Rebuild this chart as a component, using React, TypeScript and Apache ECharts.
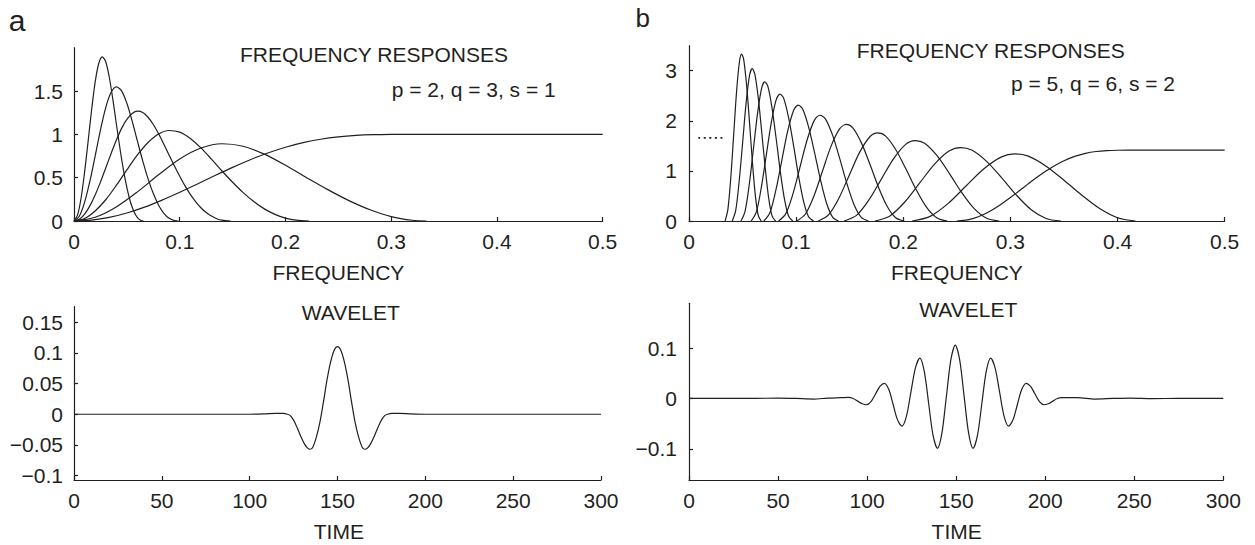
import React, { useEffect, useRef } from 'react';
import * as echarts from 'echarts';

// ---------- Panel a (p = 2, q = 3, s = 1): frequency responses ----------
const aHigh: number[][] = [[0,0],[0.0167,0.0106],[0.0333,0.042],[0.05,0.0927],[0.0667,0.16],[0.0833,0.241],[0.1,0.3316],[0.1167,0.4277],[0.1333,0.525],[0.15,0.6194],[0.1667,0.7071],[0.1833,0.7851],[0.2,0.8511],[0.2167,0.9039],[0.2333,0.9434],[0.25,0.9705],[0.2667,0.9871],[0.2833,0.9957],[0.3,0.9991],[0.3167,1],[0.3333,1],[0.5,1]];
const aLevel2: number[][] = [[0,0],[0.02,0.0437],[0.04,0.1626],[0.06,0.3363],[0.08,0.5333],[0.1,0.7157],[0.12,0.8419],[0.14,0.8917],[0.16,0.8628],[0.18,0.7713],[0.2,0.6424],[0.22,0.5003],[0.24,0.3618],[0.26,0.2356],[0.28,0.1301],[0.3,0.0514],[0.32,0.0084],[0.3333,0]];
const aLevel3: number[][] = [[0,0],[0.01,0.0293],[0.02,0.1161],[0.03,0.2452],[0.04,0.4109],[0.05,0.5902],[0.06,0.762],[0.07,0.9058],[0.08,1.0041],[0.09,1.0443],[0.1,1.0263],[0.11,0.9531],[0.12,0.8438],[0.13,0.7135],[0.14,0.5772],[0.15,0.4471],[0.16,0.3271],[0.17,0.2242],[0.18,0.14],[0.19,0.0764],[0.2,0.0331],[0.21,0.009],[0.2222,0]];
const aLevel4: number[][] = [[0,0],[0.005,0.0198],[0.01,0.0795],[0.015,0.1749],[0.02,0.3002],[0.025,0.4488],[0.03,0.6114],[0.035,0.7761],[0.04,0.9311],[0.045,1.0688],[0.05,1.1729],[0.055,1.2406],[0.06,1.2669],[0.065,1.2524],[0.07,1.1973],[0.075,1.1136],[0.08,1.0064],[0.085,0.8853],[0.09,0.7595],[0.095,0.6342],[0.1,0.5166],[0.105,0.4053],[0.11,0.3075],[0.115,0.224],[0.12,0.1531],[0.125,0.0971],[0.13,0.0568],[0.135,0.0265],[0.14,0.0091],[0.1481,0]];
const aLevel5: number[][] = [[0,0],[0.005,0.0549],[0.01,0.2142],[0.015,0.4586],[0.02,0.7487],[0.025,1.0481],[0.03,1.3082],[0.035,1.4821],[0.04,1.548],[0.045,1.5023],[0.05,1.3581],[0.055,1.1523],[0.06,0.9212],[0.065,0.6944],[0.07,0.4883],[0.075,0.3163],[0.08,0.1826],[0.085,0.0891],[0.09,0.0312],[0.095,0.0048],[0.0988,0]];
const aLevel6: number[][] = [[0,0],[0.00333,0.0672],[0.00667,0.2623],[0.01,0.5617],[0.01333,0.9169],[0.01667,1.2836],[0.02,1.6019],[0.02333,1.8144],[0.02667,1.8948],[0.03,1.8386],[0.03333,1.6618],[0.03667,1.409],[0.04,1.1256],[0.04333,0.8479],[0.04667,0.5959],[0.05,0.3857],[0.05333,0.2223],[0.05667,0.1083],[0.06,0.0378],[0.06333,0.0058],[0.0658,0]];

// ---------- Panel b (p = 5, q = 6, s = 2): frequency responses ----------
const bHigh: number[][] = [[0.25,0],[0.26,0.0216],[0.27,0.085],[0.28,0.1857],[0.29,0.3166],[0.3,0.4689],[0.31,0.6324],[0.32,0.7967],[0.33,0.9518],[0.34,1.0895],[0.35,1.2036],[0.36,1.291],[0.37,1.3515],[0.38,1.3882],[0.39,1.4064],[0.4,1.4129],[0.41,1.4142],[0.4167,1.4142],[0.5,1.4142]];
const bLevel2: number[][] = [[0.2083,0],[0.225,0.0931],[0.2417,0.3468],[0.2583,0.6928],[0.275,1.0382],[0.2917,1.2796],[0.3042,1.3388],[0.3167,1.2943],[0.3333,1.0945],[0.35,0.8134],[0.3667,0.5138],[0.3833,0.2479],[0.4,0.0651],[0.4167,0]];
const bLevel3: number[][] = [[0.1736,0],[0.1875,0.102],[0.2014,0.3799],[0.2153,0.7589],[0.2292,1.1372],[0.2431,1.4017],[0.2535,1.4665],[0.2639,1.417],[0.2778,1.1903],[0.2917,0.8647],[0.3056,0.5161],[0.3194,0.2251],[0.3333,0.0504],[0.3472,0]];
const bLevel4: number[][] = [[0.1447,0],[0.1563,0.1117],[0.1678,0.4162],[0.1794,0.8313],[0.191,1.2458],[0.2025,1.5355],[0.2112,1.6065],[0.2199,1.5522],[0.2315,1.3039],[0.2431,0.9473],[0.2546,0.5654],[0.2662,0.2465],[0.2778,0.0548],[0.2894,0]];
const bLevel5: number[][] = [[0.1206,0],[0.1302,0.1224],[0.1399,0.4559],[0.1495,0.9107],[0.1591,1.3647],[0.1688,1.6821],[0.176,1.7598],[0.1833,1.7004],[0.1929,1.4283],[0.2025,1.0377],[0.2122,0.6193],[0.2218,0.27],[0.2315,0.06],[0.2411,0]];
const bLevel6: number[][] = [[0.1005,0],[0.1085,0.1341],[0.1166,0.4994],[0.1246,0.9976],[0.1326,1.4949],[0.1407,1.8426],[0.1467,1.9278],[0.1527,1.8626],[0.1608,1.5647],[0.1688,1.1367],[0.1768,0.6785],[0.1849,0.2958],[0.1929,0.0658],[0.2009,0]];
const bLevel7: number[][] = [[0.0837,0],[0.0904,0.1469],[0.0971,0.5471],[0.1038,1.0928],[0.1105,1.6376],[0.1172,2.0185],[0.1222,2.1118],[0.1273,2.0404],[0.134,1.714],[0.1407,1.2452],[0.1474,0.7432],[0.1541,0.324],[0.1608,0.0721],[0.1675,0]];
const bLevel8: number[][] = [[0.0698,0],[0.0754,0.1609],[0.0809,0.5993],[0.0865,1.1971],[0.0921,1.7939],[0.0977,2.2111],[0.1019,2.3133],[0.1061,2.2352],[0.1116,1.8776],[0.1172,1.364],[0.1228,0.8142],[0.1284,0.3549],[0.134,0.0789],[0.1395,0]];
const bLevel9: number[][] = [[0.0581,0],[0.0628,0.1763],[0.0674,0.6565],[0.0721,1.3113],[0.0768,1.9652],[0.0814,2.4222],[0.0849,2.5342],[0.0884,2.4485],[0.093,2.0568],[0.0977,1.4942],[0.1023,0.8919],[0.107,0.3888],[0.1116,0.0865],[0.1163,0]];
const bLevel10: number[][] = [[0.0485,0],[0.0523,0.1931],[0.0562,0.7192],[0.0601,1.4365],[0.064,2.1527],[0.0678,2.6534],[0.0707,2.776],[0.0737,2.6822],[0.0775,2.2531],[0.0814,1.6369],[0.0853,0.977],[0.0892,0.4259],[0.093,0.0947],[0.0969,0]];
const bLevel11: number[][] = [[0.0404,0],[0.0436,0.2115],[0.0468,0.7878],[0.0501,1.5736],[0.0533,2.3582],[0.0565,2.9066],[0.059,3.041],[0.0614,2.9382],[0.0646,2.4682],[0.0678,1.7931],[0.0711,1.0702],[0.0743,0.4666],[0.0775,0.1038],[0.0808,0]];
const bLevel12: number[][] = [[0.0337,0],[0.0363,0.2317],[0.039,0.863],[0.0417,1.7238],[0.0444,2.5833],[0.0471,3.184],[0.0491,3.3312],[0.0511,3.2186],[0.0538,2.7037],[0.0565,1.9642],[0.0592,1.1724],[0.0619,0.5111],[0.0646,0.1137],[0.0673,0]];
const bDots: number[][] = [[0.0087,1.66],[0.032,1.66]];

// ---------- Wavelets ----------
const waveA: number[][] = [[0,0],[100,0],[108,0.0005],[115,0.0014],[119,0.0013],[121.5,0],[123,-0.0019],[125,-0.0096],[127,-0.0217],[129,-0.0353],[131,-0.0474],[133,-0.0552],[134.5,-0.057],[136,-0.0532],[138,-0.0369],[140,-0.013],[142,0.02],[144,0.0555],[146,0.084],[148,0.1033],[150,0.11],[152,0.1033],[154,0.084],[156,0.0555],[158,0.02],[160,-0.013],[162,-0.0369],[164,-0.0532],[165.5,-0.057],[167,-0.0552],[169,-0.0474],[171,-0.0353],[173,-0.0217],[175,-0.0096],[177,-0.0019],[178.5,0],[181,0.0013],[185,0.0014],[192,0.0005],[200,0],[300,0]];
const waveB: number[][] = [[0,0],[20,0.0003],[35,0],[50,0.0008],[60,0.0001],[70,-0.0012],[78,0.0008],[85,0.0015],[89.7,0.002],[92.2,-0.0001],[94.7,-0.0053],[97.2,-0.0104],[99.7,-0.0125],[102.2,-0.0063],[104.7,0.0088],[107.2,0.0238],[109.7,0.03],[112.2,0.0176],[114.65,-0.0125],[117.1,-0.0426],[119.6,-0.055],[122.1,-0.0352],[124.6,0.0125],[127.1,0.0602],[129.6,0.08],[132.1,0.0538],[134.55,-0.0095],[137,-0.0728],[139.5,-0.099],[142,-0.069],[144.5,0.0035],[147,0.076],[149.5,0.106],[152,0.076],[154.5,0.0035],[157,-0.069],[159.5,-0.099],[162,-0.0728],[164.45,-0.0095],[166.9,0.0538],[169.4,0.08],[171.9,0.0602],[174.4,0.0125],[176.9,-0.0352],[179.4,-0.055],[181.9,-0.0426],[184.35,-0.0125],[186.8,0.0176],[189.3,0.03],[191.8,0.0238],[194.3,0.0088],[196.8,-0.0063],[199.3,-0.0125],[201.8,-0.0104],[204.3,-0.0053],[206.8,-0.0001],[209.3,0.0015],[218,0.0015],[228,-0.0012],[238,0],[248,0.0008],[260,-0.0003],[275,0],[300,0]];

// ---------- Tick values ----------
const freqTicks = [0, 0.1, 0.2, 0.3, 0.4, 0.5];
const timeTicks = [0, 50, 100, 150, 200, 250, 300];
const respTicksA = [0, 0.5, 1, 1.5];
const respTicksB = [0, 1, 2, 3];
const waveTicksA = [-0.1, -0.05, 0, 0.05, 0.1, 0.15];
const waveTicksB = [-0.1, 0, 0.1];

const INK = '#231f20';
const FONT = '"Liberation Sans", Arial, Helvetica, sans-serif';
const FS = 21;

const fmt = (v: number) => String(v).replace('-', '\u2212');

function xAxis(gridIndex: number, ticks: number[]) {
  return {
    type: 'value', gridIndex,
    min: ticks[0], max: ticks[ticks.length - 1], interval: ticks[1] - ticks[0],
    axisLine: { show: true, onZero: false, lineStyle: { color: INK, width: 1.2 } },
    axisTick: { show: true, inside: true, length: 4, lineStyle: { color: INK, width: 1.2 } },
    axisLabel: { color: INK, fontSize: FS, fontFamily: FONT, margin: 9.5, formatter: fmt },
    splitLine: { show: false },
  };
}
function yAxis(gridIndex: number, min: number, max: number, ticks: number[], margin: number) {
  return {
    type: 'value', gridIndex, min, max,
    axisLine: { show: true, onZero: false, lineStyle: { color: INK, width: 1.2 } },
    axisTick: { show: true, inside: true, length: 4, customValues: ticks, lineStyle: { color: INK, width: 1.2 } },
    axisLabel: { color: INK, fontSize: FS, fontFamily: FONT, margin, customValues: ticks, formatter: fmt },
    splitLine: { show: false },
  };
}
function curve(data: number[][], idx: number, extra: any = {}) {
  return {
    type: 'line', xAxisIndex: idx, yAxisIndex: idx, data,
    symbol: 'none', showSymbol: false, smooth: 0.3, silent: true,
    lineStyle: { color: INK, width: 1.2, ...extra },
  };
}
function label(text: string, x: number, y: number, size: number, align: string) {
  return {
    type: 'text', x, y, silent: true,
    style: {
      text, fill: INK, fontSize: size, fontFamily: FONT,
      align, verticalAlign: 'middle', textAlign: align, textVerticalAlign: 'middle',
    },
  };
}

const option: any = {
  animation: false,
  backgroundColor: '#ffffff',
  grid: [
    { left: 74, top: 47.7, width: 528.7, height: 173.3 },
    { left: 689, top: 45.7, width: 535.7, height: 175.3 },
    { left: 74, top: 306.7, width: 527, height: 173.3 },
    { left: 689, top: 303.3, width: 534.3, height: 176.7 },
  ],
  xAxis: [xAxis(0, freqTicks), xAxis(1, freqTicks), xAxis(2, timeTicks), xAxis(3, timeTicks)],
  yAxis: [
    yAxis(0, 0, 2, respTicksA, 11),
    yAxis(1, 0, 3.5, respTicksB, 12),
    yAxis(2, -0.107, 0.175, waveTicksA, 11),
    yAxis(3, -0.162, 0.189, waveTicksB, 12),
  ],
  series: [
    curve(aHigh, 0), curve(aLevel2, 0), curve(aLevel3, 0), curve(aLevel4, 0), curve(aLevel5, 0), curve(aLevel6, 0),
    curve(bHigh, 1), curve(bLevel2, 1), curve(bLevel3, 1), curve(bLevel4, 1), curve(bLevel5, 1), curve(bLevel6, 1),
    curve(bLevel7, 1), curve(bLevel8, 1), curve(bLevel9, 1), curve(bLevel10, 1), curve(bLevel11, 1), curve(bLevel12, 1),
    curve(bDots, 1, { type: [2, 3.5], width: 1.8 }),
    curve(waveA, 2), curve(waveB, 3),
  ],
  graphic: [
    label('a', 8.8, 20.3, 30, 'left'),
    label('b', 635.5, 18, 26, 'left'),
    label('FREQUENCY RESPONSES', 240, 54, FS, 'left'),
    label('p = 2, q = 3, s = 1', 391.7, 89, FS, 'left'),
    label('FREQUENCY RESPONSES', 856.7, 50, FS, 'left'),
    label('p = 5, q = 6, s = 2', 1011, 83.3, FS, 'left'),
    label('FREQUENCY', 338.4, 272.5, FS, 'center'),
    label('FREQUENCY', 956.9, 272.5, FS, 'center'),
    label('WAVELET', 301.7, 312.5, FS, 'left'),
    label('WAVELET', 919.3, 309.2, FS, 'left'),
    label('TIME', 338.8, 531.7, FS, 'center'),
    label('TIME', 956.7, 531.7, FS, 'center'),
  ],
};

export default function App() {
  const ref = useRef<HTMLDivElement>(null);
  useEffect(() => {
    const chart = echarts.init(ref.current as HTMLDivElement, null, { renderer: 'svg' });
    chart.setOption(option);
    return () => chart.dispose();
  }, []);
  return (
    <div
      ref={ref}
      style={{ position: 'absolute', left: 0, top: 0, width: 1255, height: 545, background: '#ffffff' }}
    />
  );
}
